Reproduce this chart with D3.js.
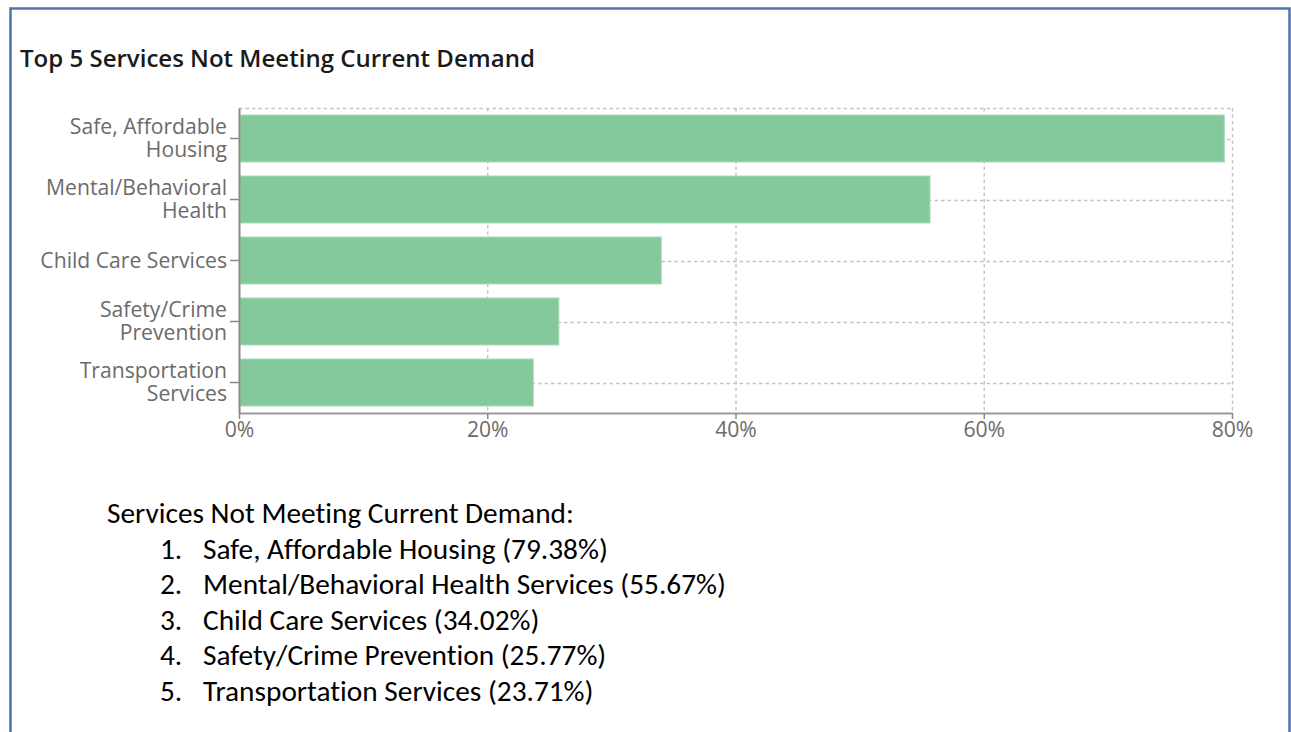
<!DOCTYPE html>
<html><head><meta charset="utf-8">
<script src="https://cdn.jsdelivr.net/npm/d3@7"></script>
<style>
html,body{margin:0;padding:0;background:#fff;}
svg{display:block;}
text{font-variant-ligatures:none;}
</style></head>
<body>
<svg id="c" width="1291" height="732"></svg>
<script>
const title = "Top 5 Services Not Meeting Current Demand";
const categories = [["Safe, Affordable","Housing"],["Mental/Behavioral","Health"],["Child Care Services"],["Safety/Crime","Prevention"],["Transportation","Services"]];
const values = [79.38, 55.67, 34.02, 25.77, 23.71];
const xTicks = [0, 20, 40, 60, 80];
const listHeading = "Services Not Meeting Current Demand:";
const listItems = ["Safe, Affordable Housing (79.38%)","Mental/Behavioral Health Services (55.67%)","Child Care Services (34.02%)","Safety/Crime Prevention (25.77%)","Transportation Services (23.71%)"];

(function(){
const svg = d3.select("#c");
const keys = categories.map(c => c.join(" "));
const af = "'Open Sans','Noto Sans',sans-serif";

// frame
svg.append("path").attr("d","M10.5,732 V8.5 H1289.5 V732")
  .attr("fill","none").attr("stroke","#4A76AB").attr("stroke-width",2.5);

function fitText(sel, target){
  const w = sel.node().getComputedTextLength();
  const fs = parseFloat(sel.attr("font-size"));
  sel.attr("font-size", (fs*target/w).toFixed(2));
  return fs*target/w;
}

// measure axis font size
const probe = svg.append("text").attr("font-family",af).attr("font-size",18).text(categories[1][0]);
const axFs = fitText(probe, 181);
probe.remove();

// title
const t = svg.append("text").attr("x",20).attr("y",67).text(title)
  .attr("font-family",af).attr("font-weight",600)
  .attr("font-size",22).attr("fill","#1a1a1a");
fitText(t, 515);

const pl = 239, pr = 1232, pt = 108, pb = 413;
const x = d3.scaleLinear().domain([0,80]).range([pl,pr]);
const y = d3.scaleBand().domain(keys).range([pt,pb]).paddingInner(0.23).paddingOuter(0.115);

const grid = svg.append("g").attr("stroke","#c4c4c4").attr("stroke-width",1.4).attr("stroke-dasharray","3.5,3").attr("fill","none");
grid.append("line").attr("x1",pl).attr("x2",pr).attr("y1",pt+0.5).attr("y2",pt+0.5);
xTicks.filter(d=>d>0).forEach(d=>{
  grid.append("line").attr("x1",x(d)+0.5).attr("x2",x(d)+0.5).attr("y1",pt).attr("y2",pb);
});
keys.forEach(k=>{
  const cy = Math.round(y(k)+y.bandwidth()/2)+0.5;
  grid.append("line").attr("x1",pl).attr("x2",pr).attr("y1",cy).attr("y2",cy);
});

// bars
svg.append("g").selectAll("rect").data(values).join("rect")
  .attr("x", x(0)+1)
  .attr("y",(d,i)=>y(keys[i]))
  .attr("width",d=>x(d)-x(0)-1)
  .attr("height",y.bandwidth())
  .attr("fill","#84C99C").attr("stroke","#A9DBBA").attr("stroke-width",1);

// x axis
const xAxis = svg.append("g").attr("transform",`translate(0,${pb})`)
  .call(d3.axisBottom(x).tickValues(xTicks).tickFormat(d=>d+"%").tickSize(6).tickSizeOuter(0));
xAxis.select(".domain").attr("stroke","#9a9a9a").attr("stroke-width",2);
xAxis.selectAll(".tick line").attr("stroke","#8a8a8a").attr("stroke-width",1.5);
xAxis.selectAll(".tick text").attr("font-family",af).attr("font-size",axFs).attr("fill","#6b6b6b").attr("dy","0.9em").attr("y",5);

// y axis
const yAxis = svg.append("g").attr("transform",`translate(${pl},0)`)
  .call(d3.axisLeft(y).tickSize(9).tickSizeOuter(0).tickFormat(""));
yAxis.select(".domain").attr("stroke","#8a8a8a").attr("stroke-width",2);
yAxis.selectAll(".tick line").attr("stroke","#8a8a8a").attr("stroke-width",1.5);
yAxis.selectAll(".tick").each(function(k,i){
  const lines = categories[i];
  const g = d3.select(this);
  const tx = g.append("text").attr("x",-12).attr("text-anchor","end")
    .attr("font-family",af).attr("font-size",axFs).attr("fill","#6b6b6b");
  const lh = 23;
  const start = -(lines.length-1)*lh/2;
  lines.forEach((l,j)=>{
    tx.append("tspan").attr("x",-12).attr("y",start+j*lh).attr("dy","0.35em").text(l);
  });
});

// list
const lf = "Carlito, Calibri, 'Open Sans', 'Noto Sans', sans-serif";
const h = svg.append("text").attr("x",107).attr("y",523).text(listHeading)
  .attr("font-family",lf).attr("font-size",23).attr("fill","#000");
fitText(h, 467);
const lfs = h.attr("font-size");
const rowY = [558.5, 594, 629.5, 665, 700.5];
listItems.forEach((s,i)=>{
  svg.append("text").attr("x",160).attr("y",rowY[i]).text((i+1)+".")
    .attr("font-family",lf).attr("font-size",lfs).attr("fill","#000");
  svg.append("text").attr("x",203).attr("y",rowY[i]).text(s)
    .attr("font-family",lf).attr("font-size",lfs).attr("fill","#000");
});
})();
</script>
</body></html>
